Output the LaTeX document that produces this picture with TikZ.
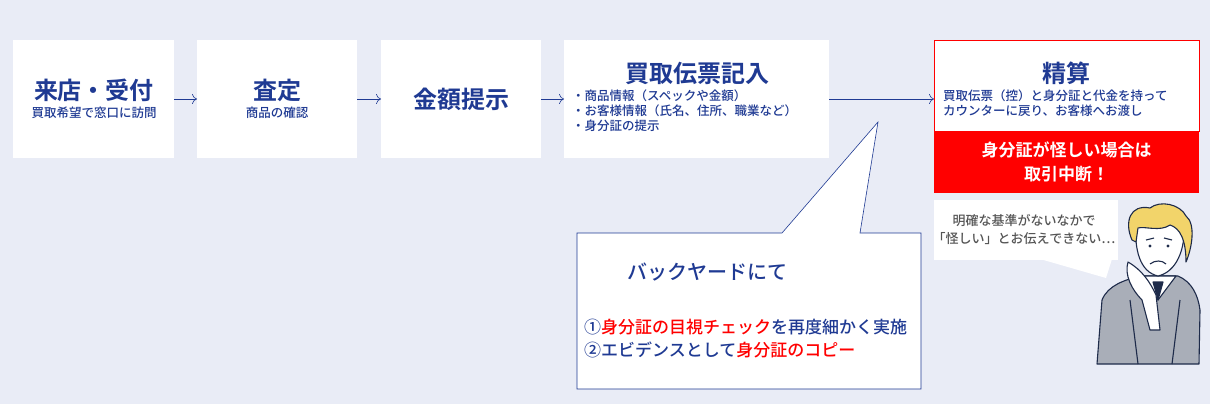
\documentclass[tikz,border=0pt]{standalone}
\usepackage{fontspec}
\usetikzlibrary{arrows.meta}
\newfontfamily\jp{Noto Sans CJK JP Medium}
\newfontfamily\jpb{Noto Sans CJK JP Bold}
\definecolor{bg}{HTML}{E9ECF6}
\definecolor{navy}{HTML}{1F3A93}
\definecolor{rd}{HTML}{FF0000}
\definecolor{gtx}{HTML}{555555}
\definecolor{suit}{HTML}{A9AEB8}
\definecolor{hair}{HTML}{F2D46A}
\definecolor{ink}{HTML}{1E2B4A}
\tikzset{
 box/.style={fill=white,draw=none},
 ttl/.style={text=navy,font=\jpb\fontsize{24}{26}\selectfont,inner sep=0},
 sub/.style={text=navy,font=\jp\fontsize{12.5}{15}\selectfont,inner sep=0,align=left},
 arr/.style={draw=navy,line width=0.6pt,-{To[length=5pt,width=10pt]}},
}
\begin{document}
\begin{tikzpicture}[x=1pt,y=-1pt]
\fill[bg] (0,0) rectangle (1210,404);
\useasboundingbox (0,0) rectangle (1210,404);
% boxes
\node[box,minimum width=161,minimum height=118,anchor=north west] (b1) at (13,40) {};
\node[box,minimum width=160,minimum height=118,anchor=north west] (b2) at (197,40) {};
\node[box,minimum width=160,minimum height=118,anchor=north west] (b3) at (381,40) {};
\node[box,minimum width=265,minimum height=118,anchor=north west] (b4) at (564,40) {};
\node[box,draw=rd,line width=0.6pt,minimum width=265,minimum height=91,anchor=north west] (b5) at (934,40) {};
\node[fill=rd,minimum width=265,minimum height=62,anchor=north west,inner sep=0] (b5r) at (934,131) {};
% texts
\node[ttl] (t1) at (94,90) {来店・受付};
\node[sub] (s1) at (94,113) {買取希望で窓口に訪問};
\node[ttl] (t2) at (277,90) {査定};
\node[sub] (s2) at (277,113) {商品の確認};
\node[ttl] (t3) at (461,99) {金額提示};
\node[ttl] (t4) at (697,73) {買取伝票記入};
\node[sub,anchor=north west] (s4) at (572,90) {・商品情報（スペックや金額）\\・お客様情報（氏名、住所、職業など）\\・身分証の提示};
\node[ttl] (t5) at (1066,73) {精算};
\node[sub,anchor=north west] (s5) at (943,90) {買取伝票（控）と身分証と代金を持って\\カウンターに戻り、お客様へお渡し};
\node[text=white,font=\jpb\fontsize{17}{24}\selectfont,align=center] (r5) at (b5r) {身分証が怪しい場合は\\取引中断！};
% arrows
\draw[arr] (b1.east|-0,99) -- (b2.west|-0,99);
\draw[arr] (b2.east|-0,99) -- (b3.west|-0,99);
\draw[arr] (b3.east|-0,99) -- (b4.west|-0,99);
\draw[arr] (b4.east|-0,99) -- (b5.west|-0,99);
% callout
\draw[navy,fill=white,line width=0.6pt] (577,233) -- (782,233) -- (878,122) -- (860,233) -- (921,233) -- (921,389) -- (577,389) -- cycle;
\node[text=navy,font=\jp\fontsize{20}{22}\selectfont] (cb) at (707,272) {バックヤードにて};
\node[anchor=west,font=\jp\fontsize{17}{23}\selectfont,align=left,text=navy,inner sep=0] (cl) at (584,339)
 {①{\color{rd}身分証の目視チェック}を再度細かく実施\\②エビデンスとして{\color{rd}身分証のコピー}};
% speech bubble
\fill[white] (934,200) rectangle (1118,260);
\fill[white] (1040,259) -- (1106,278) -- (1112,259) -- cycle;
\node[text=gtx,font=\jp\fontsize{13}{18}\selectfont,align=center] (sb) at (1024,230) {明確な基準がないなかで\\「怪しい」とお伝えできない…};
% man
\begin{scope}[line width=1.1pt,draw=ink,line join=round]
\filldraw[fill=suit] (1097,364) -- (1102,300) .. controls (1108,285) and (1125,280) .. (1140,276) -- (1178,276) .. controls (1192,282) and (1198,295) .. (1200,310) -- (1199,364) -- cycle;
\filldraw[fill=white] (1140,276) -- (1158,300) -- (1176,276) -- cycle;
\filldraw[fill=ink] (1153,282) -- (1158,300) -- (1163,282) -- cycle;
\filldraw[fill=white] (1136,222) .. controls (1134,250) and (1140,272) .. (1158,276) .. controls (1176,272) and (1186,250) .. (1184,222) -- cycle;
\filldraw[fill=hair] (1132,240) .. controls (1124,222) and (1130,204) .. (1150,208) .. controls (1160,200) and (1180,204) .. (1186,216) .. controls (1196,224) and (1192,248) .. (1186,262) .. controls (1186,240) and (1180,228) .. (1170,225) .. controls (1160,232) and (1145,226) .. (1138,228) -- (1136,242) -- cycle;
\draw (1146,240) -- (1154,238) (1164,238) -- (1172,240);
\fill[ink] (1150,246) circle (1.6) (1168,246) circle (1.6);
\draw (1150,264) .. controls (1155,260) and (1162,260) .. (1166,264);
\filldraw[fill=white] (1128,262) .. controls (1124,275) and (1132,290) .. (1142,300) -- (1150,330) -- (1160,330) -- (1156,295) .. controls (1150,282) and (1142,270) .. (1128,262) -- cycle;
\draw (1130,300) -- (1138,364) (1180,300) -- (1172,364);
\end{scope}
\end{tikzpicture}
\end{document}
